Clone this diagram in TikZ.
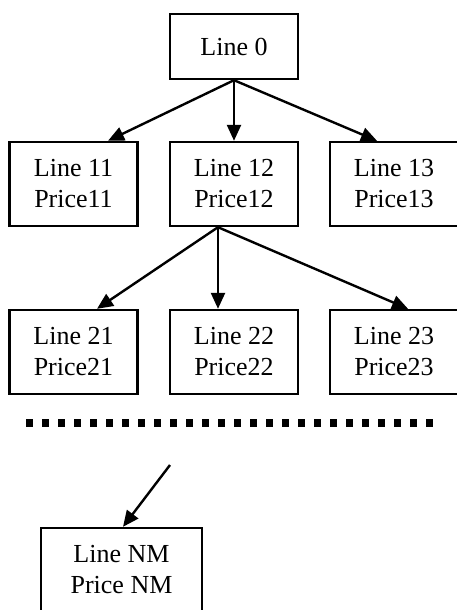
\documentclass[tikz,border=0pt]{standalone}
\usepackage{fontspec}
\setmainfont{Liberation Serif}
\usetikzlibrary{arrows.meta,calc}
\tikzset{
  box/.style={draw, line width=2.4pt, rectangle, minimum width=128pt, minimum height=84pt,
    inner sep=0pt, align=center, font=\fontsize{26}{31}\selectfont},
  edgebox/.style={box, minimum width=134pt},
  link/.style={line width=2.4pt, -{Triangle[length=16pt,width=14pt]}},
  dotrow/.style={line width=8pt, dash pattern=on 7pt off 9pt}
}
\newcommand{\lft}{\hspace*{-6pt}}
\begin{document}
\begin{tikzpicture}[x=1pt,y=-1pt]
\useasboundingbox (0,0) rectangle (457,610);
\clip (0,0) rectangle (457,610);

% root
\node[box, minimum height=65pt] (l0) at (234,46.5) {Line 0};

% first level
\node[box] (l11) at (73.5,184) {Line 11\\Price11};
\node[box] (l12) at (234,184) {Line 12\\Price12};
\node[edgebox] (l13) at (397,184) {\lft Line 13\\\lft Price13};

% second level
\node[box] (l21) at (73.5,352) {Line 21\\Price21};
\node[box] (l22) at (234,352) {Line 22\\Price22};
\node[edgebox] (l23) at (397,352) {\lft Line 23\\\lft Price23};

% last level
\node[box, minimum width=161pt] (lnm) at (121.5,570) {Line NM\\Price NM};

\draw[link] (l0.south) -- ($(l11.north)+(34.5,0)$);
\draw[link] (l0.south) -- (l12.north);
\draw[link] (l0.south) -- ($(l13.north)+(-20,0)$);

\coordinate (fork) at ($(l12.south)+(-16,0)$);
\draw[link] (fork) -- ($(l21.north)+(23.5,0)$);
\draw[link] (fork) -- ($(l22.north)+(-16,0)$);
\draw[link] (fork) -- ($(l23.north)+(11,0)$);

% ellipsis between levels
\coordinate (dl) at (26,423);
\coordinate (dr) at (438,423);
\draw[dotrow] (dl) -- (dr);

\coordinate (from) at (170,465);
\draw[link] (from) -- ($(lnm.north)+(1.5,0)$);
\end{tikzpicture}
\end{document}
